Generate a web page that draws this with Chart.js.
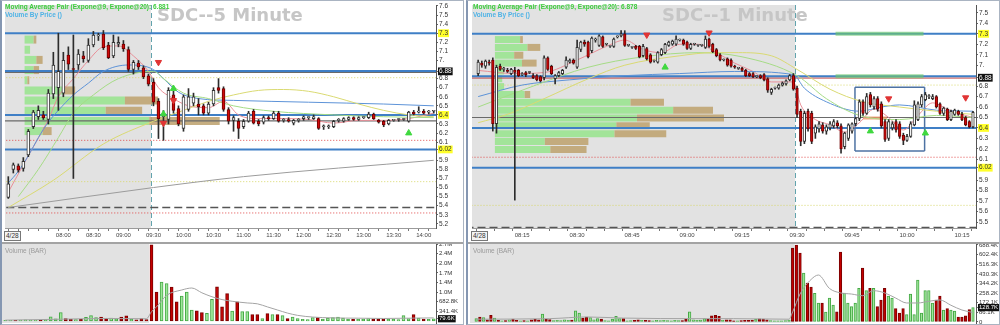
<!DOCTYPE html>
<html>
<head>
<meta charset="utf-8">
<script src="https://cdn.jsdelivr.net/npm/chart.js@4.4.1/dist/chart.umd.min.js"></script>
<style>
html,body{margin:0;padding:0;background:#fff;}
body{position:relative;width:1000px;height:325px;overflow:hidden;font-family:'Liberation Sans',Arial,sans-serif;}
canvas{position:absolute;display:block;}
.panel{position:absolute;top:0;height:325px;box-sizing:border-box;border:1px solid #aab4c2;border-left:2px solid #8597b2;background:#fff;}
.sep{position:absolute;height:2px;background:#a3a3a3;}
.wm{position:absolute;font:bold 18px 'DejaVu Sans',sans-serif;color:#c6c6c6;line-height:18px;white-space:nowrap;}
.lg{position:absolute;font:bold 6.5px 'Liberation Sans',Arial,sans-serif;line-height:8px;white-space:nowrap;}
.vt{position:absolute;font:6.5px 'Liberation Sans',Arial,sans-serif;color:#9a9a9a;white-space:nowrap;line-height:8px;}
.dt{position:absolute;font:6.5px 'Liberation Sans',Arial,sans-serif;color:#333;border:1px solid #777;padding:0 1px;line-height:8px;background:#f4f4f4;}
</style>
</head>
<body>
<div class="panel" style="left:0;width:464px"></div>
<div class="panel" style="left:466px;width:534px"></div>
<div class="sep" style="left:2px;width:461px;top:242px"></div>
<div class="sep" style="left:468px;width:531px;top:242px"></div>
<canvas id="lp" width="463" height="242" style="left:0;top:0;width:463px;height:242px"></canvas>
<canvas id="lv" width="463" height="81" style="left:0;top:244px;width:463px;height:81px"></canvas>
<canvas id="rp" width="533" height="242" style="left:467px;top:0;width:533px;height:242px"></canvas>
<canvas id="rv" width="533" height="81" style="left:467px;top:244px;width:533px;height:81px"></canvas>
<div class="wm" style="left:157px;top:6px">SDC--5 Minute</div>
<div class="wm" style="left:662px;top:6px">SDC--1 Minute</div>
<div class="lg" style="left:5px;top:3px;color:#3ccd3c">Moving Average Pair (Expone@9, Expone@20): 6.881</div>
<div class="lg" style="left:5px;top:11px;color:#4fb3e6">Volume By Price ()</div>
<div class="lg" style="left:473px;top:3px;color:#3ccd3c">Moving Average Pair (Expone@9, Expone@20): 6.878</div>
<div class="lg" style="left:473px;top:11px;color:#4fb3e6">Volume By Price ()</div>
<div class="vt" style="left:5px;top:247px">Volume (BAR)</div>
<div class="vt" style="left:473px;top:247px">Volume (BAR)</div>
<div class="dt" style="left:4px;top:231px">4/28</div>
<div class="dt" style="left:471px;top:231px">4/28</div>
<script>
// ================= LEFT: 5-minute bars (index 0 = 07:05) =================
const lStart = '07:05';
const lStepMin = 5;
const lOpenTime = '09:30';
const lOpen = [5.49,5.80,5.84,5.81,5.96,6.27,6.38,6.40,6.35,6.63, 6.70,6.64,7.06,6.91,6.95,7.05,7.00,7.17,7.27,7.29, 7.17,7.05,7.18,7.18,7.12,6.90,6.97,6.92,6.83,6.76, 6.55,6.38,6.35,6.62,6.47,6.25,6.46,6.53,6.52,6.50, 6.42,6.52,6.70,6.69,6.46,6.34,6.33,6.27,6.33,6.44, 6.33,6.32,6.37,6.36,6.42,6.34,6.35,6.31,6.34,6.36, 6.37,6.36,6.36,6.27,6.27,6.27,6.34,6.33,6.35,6.37, 6.35,6.37,6.37,6.41,6.34,6.33,6.30,6.34,6.35,6.35, 6.33,6.43,6.43,6.44,6.43,6.44];
const lHigh = [5.72,5.87,5.86,5.93,6.24,6.45,6.50,6.44,6.68,7.09, 7.30,7.09,7.15,7.28,7.12,7.10,7.24,7.32,7.30,7.33, 7.20,7.28,7.26,7.22,7.15,7.00,7.00,6.94,6.85,6.80, 6.58,6.45,6.70,6.66,6.50,6.62,6.69,6.64,6.58,6.52, 6.54,6.70,6.80,6.71,6.48,6.39,6.36,6.35,6.44,6.46, 6.35,6.39,6.39,6.44,6.44,6.36,6.37,6.35,6.36,6.39, 6.38,6.40,6.37,6.29,6.29,6.34,6.36,6.37,6.38,6.38, 6.38,6.38,6.43,6.42,6.35,6.34,6.35,6.35,6.36,6.36, 6.44,6.45,6.49,6.46,6.45,6.45];
const lLow = [5.48,5.76,5.77,5.78,5.94,6.25,6.35,6.35,6.30,6.58, 6.45,6.60,6.90,5.70,6.90,6.98,6.98,7.15,7.22,7.12, 7.02,7.03,7.15,7.10,6.88,6.85,6.90,6.80,6.72,6.50, 6.14,6.12,6.30,6.42,6.28,6.22,6.44,6.50,6.40,6.40, 6.40,6.50,6.64,6.44,6.30,6.22,6.14,6.25,6.32,6.30, 6.28,6.30,6.34,6.35,6.32,6.32,6.32,6.29,6.32,6.34, 6.35,6.35,6.24,6.24,6.25,6.26,6.32,6.32,6.34,6.34, 6.34,6.36,6.36,6.35,6.31,6.27,6.29,6.33,6.33,6.34, 6.32,6.40,6.42,6.41,6.41,6.42];
const lClose = [5.64,5.85,5.79,5.89,6.22,6.43,6.45,6.37,6.64,6.95, 6.88,7.00,6.96,6.90,7.07,7.02,7.17,7.28,7.27,7.14, 7.03,7.20,7.20,7.13,6.90,6.98,6.93,6.82,6.74,6.54, 6.36,6.40,6.67,6.45,6.30,6.60,6.60,6.60,6.49,6.42, 6.52,6.67,6.67,6.46,6.33,6.37,6.25,6.33,6.42,6.31, 6.30,6.37,6.36,6.42,6.33,6.35,6.33,6.34,6.34,6.38, 6.37,6.38,6.25,6.27,6.28,6.33,6.34,6.36,6.37,6.35, 6.37,6.37,6.41,6.36,6.32,6.29,6.34,6.34,6.35,6.35, 6.43,6.41,6.44,6.42,6.44,6.44];
// volume in thousands of shares
const lVol = [20,25,20,30,40,30,25,20,60,150, 80,300,90,60,50,60,130,190,120,140, 90,100,80,140,180,60,40,90,50,2700, 1030,1380,1330,1200,680,880,1030,390,360,300, 270,770,1210,500,970,350,680,330,330,230, 230,90,260,230,230,190,90,140,90,60, 50,120,120,70,100,120,140,100,70,60, 60,70,90,70,70,70,60,60,50,190, 90,230,100,70,60,79.6];
const lVolMa = [[0,30],[10,60],[20,90],[28,80],[29,330],[30,500],[32,910],[35,1100],[37,1170],[39,1000],[41,860],[43,760],[45,700],[48,640],[50,610],[52,500],[54,390],[56,280],[58,200],[61,140],[65,110],[70,100],[75,90],[80,100],[85,110]];
const lTimeTicks = ['08:00','08:30','09:00','09:30','10:00','10:30','11:00','11:30','12:00','12:30','13:00','13:30','14:00'];
const lPriceTicks = [7.6,7.5,7.4,7.3,7.2,7.1,7.0,6.88,6.8,6.7,6.6,6.5,6.4,6.3,6.2,6.1,6.02,5.9,5.8,5.7,5.6,5.5,5.4,5.3,5.2];
const lPriceLabels = ['7.6','7.5','7.4','7.3','7.2','7.1','7.','6.88','6.8','6.7','6.6','6.5','6.4','6.3','6.2','6.1','6.02','5.9','5.8','5.7','5.6','5.5','5.4','5.3','5.2'];
const lVolTicks = [79.6,341.4,682.8,1024.2,1365.6,1707,2048.4,2389.8,2731.2];
const lVolLabels = ['79.6K','341.4K','682.8K','1.0M','1.4M','1.7M','2.0M','2.4M','2.7M'];
// volume by price (price level, up-volume, down-volume; relative units)
const lVbpPrice = [7.23,7.118,7.006,6.894,6.782,6.67,6.558,6.446,6.334,6.222];
const lVbpUp = [23,14,30,23,7,99,256,207,318,46];
const lVbpDown = [7,0,16,14,5,30,85,93,180,23];
// horizontal levels
const lBlueLevels = [7.3,6.885,6.4,6.02];
const lDarkLevels = [6.868,6.335];
const lRedDotLevels = [6.12,5.32];
const lYellowDotLevels = [6.81,5.665];
const lDashLevels = [5.38];
// moving averages: [bar index, price]
const lEma9 = [[0,5.55],[4,5.95],[8,6.35],[10,6.6],[13,6.8],[16,7.0],[19,7.15],[22,7.16],[25,7.05],[28,6.88],[30,6.70],[33,6.58],[36,6.50],[40,6.48],[43,6.55],[46,6.40],[50,6.36],[55,6.36],[60,6.35],[65,6.31],[70,6.34],[75,6.34],[80,6.36],[85,6.42]];
const lBlueMa = [[0,5.65],[2,5.78],[4,5.95],[6,6.15],[8,6.32],[10,6.45],[13,6.62],[16,6.75],[19,6.88],[24,6.95],[29,6.90],[31,6.80],[34,6.65],[38,6.58],[45,6.56],[60,6.54],[75,6.52],[85,6.50]];
const lGreenMa = [[2,5.50],[6,5.80],[10,6.15],[13,6.42],[17,6.62],[22,6.80],[29,6.88],[31,6.80],[35,6.64],[40,6.58],[45,6.50],[53,6.44],[65,6.40],[75,6.38],[85,6.37]];
const lYellowMa = [[0,5.38],[9,5.68],[19,6.08],[29,6.33],[35,6.45],[40,6.55],[45,6.62],[50,6.67],[55,6.68],[60,6.66],[65,6.60],[70,6.52],[75,6.45],[80,6.40],[85,6.38]];
const lGrayMa = [[0,5.38],[29,5.60],[47,5.72],[85,5.90]];
const lDownArrows = [[30,6.98],[33,6.56],[31,6.31]];
const lUpArrows = [[33,6.69],[31,6.41],[80,6.20]];

// ================= RIGHT: 1-minute bars (index 0 = 08:03) =================
const rStart = '08:03';
const rStepMin = 1;
const rOpenTime = '09:30';
const rOpen = [6.92,7.02,6.99,7.03,7.05,6.44,6.99,6.96,6.95,6.92, 6.95,6.95,6.91,6.93,6.93,6.90,6.90,6.89,6.88,7.07, 6.99,6.87,6.90,6.92,6.98,7.03,7.05,6.98,7.15,7.22, 7.22,7.14,7.24,7.19,7.27,7.20,7.18,7.18,7.27,7.28, 7.30,7.19,7.17,7.18,7.18,7.09,7.16,7.10,7.04,7.03, 7.10,7.12,7.19,7.20,7.20,7.24,7.24,7.22,7.16,7.20, 7.19,7.19,7.17,7.25,7.20,7.15,7.10,7.05,7.06,7.05, 6.99,6.97,6.97,6.95,6.92,6.92,6.89,6.90,6.91,6.87, 6.74,6.78,6.78,6.81,6.82,6.86,6.90,6.78,6.56,6.27, 6.56,6.54,6.35,6.39,6.43,6.37,6.40,6.42,6.45,6.42, 6.22,6.30,6.37,6.44,6.49,6.65,6.54,6.72,6.60,6.68, 6.63,6.46,6.30,6.40,6.46,6.44,6.33,6.28,6.32,6.43, 6.48,6.62,6.67,6.70,6.68,6.70,6.63,6.54,6.58,6.48, 6.53,6.56,6.53,6.50,6.46,6.41];
const rHigh = [7.05,7.04,7.05,7.05,7.07,7.00,7.01,6.98,6.97,6.97, 6.98,6.96,6.93,6.94,6.94,6.92,6.91,6.90,7.09,7.08, 7.00,6.91,6.94,6.96,7.08,7.06,7.06,7.24,7.23,7.24, 7.23,7.27,7.26,7.29,7.28,7.21,7.19,7.26,7.28,7.33, 7.33,7.20,7.18,7.19,7.19,7.20,7.17,7.11,7.05,7.13, 7.16,7.21,7.23,7.24,7.28,7.25,7.25,7.23,7.21,7.21, 7.20,7.20,7.28,7.26,7.21,7.16,7.11,7.06,7.07,7.06, 7.00,6.98,6.98,6.96,6.93,6.93,6.90,6.91,6.92,6.88, 6.78,6.79,6.82,6.84,6.86,6.91,6.92,6.80,6.58,6.56, 6.58,6.56,6.43,6.46,6.45,6.43,6.46,6.48,6.47,6.44, 6.36,6.44,6.45,6.50,6.67,6.67,6.73,6.74,6.70,6.70, 6.65,6.48,6.48,6.46,6.48,6.46,6.35,6.34,6.46,6.66, 6.65,6.72,6.74,6.72,6.72,6.71,6.64,6.60,6.59,6.57, 6.58,6.57,6.55,6.51,6.47,6.56];
const rLow = [6.90,6.98,6.97,7.00,6.37,6.35,6.95,6.94,6.93,6.91, 5.71,6.89,6.90,6.89,6.92,6.87,6.85,6.84,6.86,6.95, 6.91,6.82,6.89,6.91,6.97,7.02,7.01,6.97,7.13,7.18, 7.07,7.12,7.22,7.18,7.17,7.19,7.17,7.17,7.26,7.27, 7.18,7.18,7.16,7.15,7.07,7.08,7.05,7.02,7.03,7.02, 7.09,7.11,7.18,7.19,7.19,7.23,7.19,7.15,7.15,7.19, 7.18,7.18,7.16,7.17,7.12,7.08,7.04,7.04,6.99,6.98, 6.97,6.96,6.94,6.89,6.89,6.88,6.88,6.87,6.85,6.74, 6.72,6.77,6.77,6.80,6.81,6.85,6.76,6.50,6.23,6.25, 6.37,6.25,6.30,6.36,6.35,6.34,6.38,6.40,6.40,6.16, 6.20,6.28,6.35,6.42,6.47,6.52,6.53,6.60,6.58,6.56, 6.40,6.27,6.28,6.38,6.36,6.30,6.24,6.27,6.31,6.42, 6.47,6.60,6.66,6.68,6.67,6.59,6.53,6.52,6.47,6.47, 6.52,6.52,6.47,6.42,6.40,6.40];
const rClose = [7.03,7.00,7.04,7.02,6.44,6.98,6.96,6.96,6.94,6.96, 6.93,6.90,6.92,6.91,6.93,6.88,6.86,6.85,7.07,6.96, 6.92,6.90,6.93,6.95,7.05,7.05,7.02,7.17,7.22,7.20, 7.08,7.26,7.25,7.28,7.18,7.20,7.18,7.25,7.27,7.30, 7.19,7.19,7.17,7.16,7.08,7.18,7.06,7.03,7.04,7.12, 7.15,7.20,7.22,7.23,7.25,7.24,7.20,7.16,7.20,7.20, 7.19,7.19,7.25,7.18,7.13,7.09,7.05,7.05,7.00,6.99, 6.98,6.97,6.95,6.90,6.90,6.89,6.89,6.88,6.86,6.76, 6.77,6.78,6.81,6.83,6.85,6.90,6.77,6.53,6.27,6.54, 6.39,6.27,6.41,6.44,6.37,6.41,6.44,6.46,6.42,6.20, 6.35,6.43,6.44,6.49,6.65,6.54,6.70,6.62,6.68,6.58, 6.42,6.29,6.46,6.44,6.38,6.32,6.28,6.32,6.44,6.62, 6.63,6.70,6.72,6.70,6.70,6.60,6.54,6.59,6.48,6.56, 6.57,6.53,6.48,6.43,6.41,6.55];
const rVol = [30,45,40,20,60,35,15,10,12,20, 25,15,10,12,10,20,25,20,70,25, 22,12,15,12,20,15,18,100,80,35, 45,40,20,30,25,12,10,25,50,30, 30,10,12,15,20,15,15,12,10,15, 12,15,12,10,15,12,12,25,90,20, 15,18,30,25,55,60,50,15,20,20, 10,10,12,15,15,18,25,28,25,20, 12,10,10,10,12,18,661,688,617,438, 349,313,256,170,170,89,214,152,90,625, 259,170,137,170,300,483,282,300,300,137, 197,300,232,214,120,80,120,66,250,66, 375,80,282,280,170,197,232,107,120,107, 98,45,45,55,110,128.7];
const rVolMa = [[0,25],[20,30],[30,45],[40,35],[60,30],[70,30],[85,25],[86,90],[88,250],[91,380],[93,420],[96,300],[99,260],[102,250],[105,235],[108,280],[111,260],[114,214],[117,170],[120,170],[123,185],[126,197],[129,150],[132,107],[135,85]];
const rTimeTicks = ['08:15','08:30','08:45','09:00','09:15','09:30','09:45','10:00','10:15'];
const rPriceTicks = [7.5,7.4,7.3,7.2,7.1,7.0,6.88,6.8,6.7,6.6,6.5,6.4,6.3,6.2,6.1,6.02,5.9,5.8,5.7,5.6,5.5];
const rPriceLabels = ['7.5','7.4','7.3','7.2','7.1','7.','6.88','6.8','6.7','6.6','6.5','6.4','6.3','6.2','6.1','6.02','5.9','5.8','5.7','5.6','5.5'];
const rVolTicks = [0,86.05,128.7,172.1,258.15,344.2,430.25,516.3,602.35,688.4];
const rVolLabels = ['0','86.1K','128.7K','172.1K','258.2K','344.2K','430.3K','516.3K','602.4K','688.4K'];
const rVbpPrice = [7.245,7.17,7.095,7.02,6.945,6.87,6.795,6.72,6.645,6.57,6.495,6.42,6.345,6.27,6.195];
const rVbpUp = [55,71,42,59,20,16,20,65,296,389,310,265,261,109,121];
const rVbpDown = [6,28,20,32,0,0,0,12,73,87,190,73,113,95,79];
const rBlueLevels = [7.3,6.895,6.4,6.02];
const rDarkLevels = [6.50];
const rRedLevels = [6.877];
const rRedDotLevels = [6.12];
const rYellowDotLevels = [6.81,5.66];
const rDashLevels = [5.45];
const rZoneLevels = [7.3,6.895];
const rZoneSpan = [97.5,121.5];
const rBox = [102.8,121.8,6.18,6.79];
const rFan = [105,111.5,6.495];
const rEma9 = [[0,6.95],[10,6.92],[18,6.93],[27,7.05],[35,7.18],[40,7.24],[45,7.15],[50,7.12],[55,7.20],[60,7.20],[65,7.12],[70,7.02],[75,6.94],[80,6.84],[86,6.84],[88,6.62],[92,6.48],[96,6.43],[100,6.36],[104,6.45],[108,6.58],[112,6.50],[116,6.38],[120,6.52],[124,6.64],[128,6.58],[132,6.53],[135,6.50]];
const rBlueMa = [[0,6.70],[12,6.81],[25,6.86],[40,6.90],[55,6.92],[70,6.94],[86,6.91],[89,6.78],[95,6.65],[104,6.56],[110,6.60],[115,6.62],[125,6.57],[135,6.56]];
const rYellowMa = [[0,6.45],[8,6.53],[18,6.68],[30,6.87],[40,7.00],[55,7.09],[64,7.12],[71,7.12],[80,7.09],[87,6.96],[96,6.77],[105,6.65],[115,6.60],[125,6.56],[135,6.53]];
const rGreenMa = [[0,6.60],[15,6.80],[30,6.98],[45,7.08],[60,7.12],[72,7.08],[87,6.90],[95,6.68],[104,6.52],[115,6.48],[125,6.52],[135,6.50]];
const rDownArrows = [[46,7.29],[63,7.31],[112,6.68],[133,6.69]];
const rUpArrows = [[51,6.98],[107,6.37],[122,6.35]];

// ================= helpers =================
Chart.defaults.font.family = "'Liberation Sans', Arial, sans-serif";
Chart.defaults.color = '#333';
const toMin = s => { const p = s.split(':').map(Number); return p[0]*60 + p[1]; };
const toIdx = (s, start, step) => (toMin(s) - toMin(start)) / step;
const pts = arr => arr.map(p => ({x:p[0], y:p[1]}));

function seg(axis, x0, x1, y0, y1, color, w, order, dash){
  return {type:'line', xAxisID:axis, yAxisID:'y', data:[{x:x0,y:y0},{x:x1,y:y1}], borderColor:color,
    borderWidth:w, borderDash:dash||[], borderCapStyle:'butt', pointRadius:0, order:order, clip:0, fill:false};
}
function maLine(arr, color, w, order){
  return {type:'line', data:pts(arr), borderColor:color, borderWidth:w, pointRadius:0,
    cubicInterpolationMode:'monotone', order:order, clip:0, fill:false};
}
function arrows(arr, color, down){
  return {type:'line', data:pts(arr), showLine:false, pointStyle:'triangle', pointRadius:3.6,
    pointRotation: down ? 180 : 0, pointBackgroundColor:color, pointBorderColor:color, order:0, clip:0};
}

const shade = {
  id:'shade',
  beforeDatasetsDraw(chart, args, o){
    const {ctx, chartArea:a, scales} = chart;
    const xb = scales.x.getPixelForValue(o.openIdx - 0.5);
    ctx.save();
    ctx.fillStyle = '#e2e2e2';
    ctx.fillRect(a.left, a.top, Math.max(0, Math.min(xb, a.right) - a.left), a.bottom - a.top);
    if (o.dash){
      ctx.strokeStyle = '#62a3ad'; ctx.lineWidth = 1; ctx.setLineDash([5,3]);
      ctx.beginPath(); ctx.moveTo(Math.round(xb)+0.5, a.top); ctx.lineTo(Math.round(xb)+0.5, a.bottom); ctx.stroke();
    }
    ctx.restore();
  }
};

function timeScale(min, max, start, step, minorMin, labels){
  const vals = [];
  for (let k = Math.ceil(min); k <= max; k++) {
    if ((toMin(start) + k*step) % minorMin === 0) vals.push(k);
  }
  const map = {};
  labels.forEach(l => { map[toIdx(l, start, step)] = l; });
  return {type:'linear', min:min, max:max, offset:false,
    afterBuildTicks: s => { s.ticks = vals.map(v => ({value:v})); },
    afterFit: s => { s.height = 14; s.paddingLeft = 0; s.paddingRight = 0; },
    grid:{drawOnChartArea:false, tickLength:3, color:'#777'},
    border:{display:true, color:'#9a9a9a'},
    ticks:{autoSkip:false, maxRotation:0, minRotation:0, padding:1, font:{size:6}, color:'#444',
      callback: v => map[v] || ''}
  };
}
function rightScale(min, max, ticks, labels, width, yellow, black, fsize){
  const lm = new Map(ticks.map((t,i) => [t, labels[i]]));
  return {type:'linear', position:'right', min:min, max:max,
    afterBuildTicks: s => { s.ticks = ticks.map(v => ({value:v})); },
    afterFit: s => { s.width = width; s.paddingTop = 0; s.paddingBottom = 0; },
    grid:{drawOnChartArea:false, tickLength:2, color:'#666'},
    border:{display:true, color:'#555'},
    ticks:{autoSkip:false, padding:1, font:{size:fsize},
      callback: v => lm.get(v),
      color: c => (c.tick && c.tick.value === black) ? '#fff' : '#333',
      showLabelBackdrop: true,
      backdropColor: c => {
        const v = c.tick && c.tick.value;
        if (v === black) return '#111';
        if (yellow.includes(v)) return '#ffff2a';
        return 'rgba(0,0,0,0)';
      },
      backdropPadding:{top:0, bottom:0, left:1, right:1}
    }
  };
}

function priceChart(id, P){
  const ds = [];
  const n = P.open.length;
  P.vbpPrice.forEach((p,k) => {
    ds.push(seg('xv', 0, P.vbpUp[k], p, p, 'rgba(150,228,140,0.85)', P.vbpH, 100));
    if (P.vbpDown[k] > 0) ds.push(seg('xv', P.vbpUp[k], P.vbpUp[k] + P.vbpDown[k], p, p, 'rgba(192,165,115,0.9)', P.vbpH, 99));
  });
  P.blue.forEach(p => ds.push(seg('x', -10, n+10, p, p, '#3f7fc6', 2, 90)));
  P.dark.forEach(p => ds.push(seg('x', -10, n+10, p, p, '#6a6a6a', 1.2, 91)));
  (P.red||[]).forEach(p => ds.push(seg('x', -10, n+10, p, p, '#c24040', 1, 91)));
  P.redDot.forEach(p => ds.push(seg('x', -10, n+10, p, p, '#e04848', 1, 92, [1,2])));
  P.yelDot.forEach(p => ds.push(seg('x', -10, n+10, p, p, '#d7d86a', 1, 92, [1,2])));
  P.dash.forEach(p => ds.push(seg('x', -10, n+10, p, p, '#555', 1.3, 92, [8,4])));
  if (P.zone) P.zone.levels.forEach(p => ds.push(seg('x', P.zone.span[0], P.zone.span[1], p, p, 'rgba(110,200,110,0.65)', 4, 89)));
  if (P.box){
    const [t0,t1,p0,p1] = P.box;
    ds.push(seg('x', t0, t1, p1, p1, '#4d72a3', 1.5, 80));
    ds.push(seg('x', t0, t1, p0, p0, '#4d72a3', 1.5, 80));
    ds.push(seg('x', t0, t0, p0, p1, '#4d72a3', 1.5, 80));
    ds.push(seg('x', t1, t1, p0, p1, '#4d72a3', 1.5, 80));
  }
  if (P.fan) ds.push(seg('x', P.fan[0], P.fan[1], P.fan[2], P.fan[2], 'rgba(240,150,100,0.8)', 3, 79));
  P.mas.forEach(m => ds.push(maLine(m[0], m[1], 1, 50)));
  ds.push({type:'bar', data:P.open.map((o,i) => ({x:i, y:[P.low[i], P.high[i]]})), backgroundColor:'#2c2c2c',
    barThickness:1, grouped:false, order:20, clip:0});
  ds.push({type:'bar', data:P.open.map((o,i) => ({x:i, y:[o, P.close[i]]})),
    backgroundColor:P.open.map((o,i) => P.close[i] < o ? '#cf0a0a' : '#ffffff'),
    borderColor:P.open.map((o,i) => P.close[i] < o ? '#6e0000' : '#333333'),
    borderWidth:1, borderSkipped:false, barThickness:P.bodyW, minBarLength:1, grouped:false, order:10, clip:0});
  ds.push(arrows(P.down, '#e03434', true));
  ds.push(arrows(P.up, '#3fd83f', false));
  return new Chart(document.getElementById(id), {
    type:'bar',
    data:{datasets:ds},
    plugins:[shade],
    options:{
      responsive:false, animation:false, devicePixelRatio:1, events:[],
      layout:{padding:{left:P.padLeft, top:2, right:0, bottom:0}},
      plugins:{legend:{display:false}, tooltip:{enabled:false}, shade:{openIdx:P.openIdx, dash:true}},
      scales:{
        x: timeScale(P.xmin, P.xmax, P.start, P.step, P.minor, P.timeTicks),
        xv:{type:'linear', display:false, min:0, max:1000},
        y: rightScale(P.ymin, P.ymax, P.yTicks, P.yLabels, P.axisW, [7.3,6.4,6.02], 6.88, 6.5)
      }
    }
  });
}

function volChart(id, V){
  return new Chart(document.getElementById(id), {
    type:'bar',
    data:{datasets:[
      {type:'bar', data:V.vol.map((v,i) => ({x:i, y:v})),
        backgroundColor:V.open.map((o,i) => V.close[i] < o ? '#c40000' : '#9fe79a'),
        borderColor:V.open.map((o,i) => V.close[i] < o ? '#7a0000' : '#45a845'),
        borderWidth:1, borderSkipped:false, barThickness:V.barW, grouped:false, order:2, clip:0},
      {type:'line', data:pts(V.ma), borderColor:'#a4a4a4', borderWidth:1, pointRadius:0,
        cubicInterpolationMode:'monotone', order:1, clip:0}
    ]},
    plugins:[shade],
    options:{
      responsive:false, animation:false, devicePixelRatio:1, events:[],
      layout:{padding:{left:V.padLeft, top:0, right:0, bottom:2}},
      plugins:{legend:{display:false}, tooltip:{enabled:false}, shade:{openIdx:V.openIdx, dash:false}},
      scales:{
        x:{type:'linear', display:false, min:V.xmin, max:V.xmax, offset:false},
        y: rightScale(V.ymin, V.ymax, V.ticks, V.labels, V.axisW, [], V.last, 6)
      }
    }
  });
}

const lOpenIdx = toIdx(lOpenTime, lStart, lStepMin);
const rOpenIdx = toIdx(rOpenTime, rStart, rStepMin);

priceChart('lp', {open:lOpen, high:lHigh, low:lLow, close:lClose, bodyW:3,
  vbpPrice:lVbpPrice, vbpUp:lVbpUp, vbpDown:lVbpDown, vbpH:8,
  blue:lBlueLevels, dark:lDarkLevels, redDot:lRedDotLevels, yelDot:lYellowDotLevels, dash:lDashLevels,
  mas:[[lGrayMa,'#9c9c9c'],[lYellowMa,'#dada72'],[lGreenMa,'#a6dc86'],[lBlueMa,'#5d93d8'],[lEma9,'#e98f98']],
  down:lDownArrows, up:lUpArrows, openIdx:lOpenIdx, padLeft:2,
  xmin:-0.66, xmax:85.45, start:lStart, step:lStepMin, minor:10, timeTicks:lTimeTicks,
  ymin:5.1543, ymax:7.6109, yTicks:lPriceTicks, yLabels:lPriceLabels, axisW:27});

volChart('lv', {vol:lVol, open:lOpen, close:lClose, ma:lVolMa, barW:3, openIdx:lOpenIdx, padLeft:2,
  xmin:-0.66, xmax:85.45, ymin:-70.9, ymax:2731.2, ticks:lVolTicks, labels:lVolLabels, axisW:27, last:79.6});

priceChart('rp', {open:rOpen, high:rHigh, low:rLow, close:rClose, bodyW:2.6,
  vbpPrice:rVbpPrice, vbpUp:rVbpUp, vbpDown:rVbpDown, vbpH:7,
  blue:rBlueLevels, dark:rDarkLevels, red:rRedLevels, redDot:rRedDotLevels, yelDot:rYellowDotLevels, dash:rDashLevels,
  zone:{levels:rZoneLevels, span:rZoneSpan}, box:rBox, fan:rFan,
  mas:[[rYellowMa,'#dada72'],[rGreenMa,'#a6dc86'],[rBlueMa,'#5d93d8'],[rEma9,'#e98f98']],
  down:rDownArrows, up:rUpArrows, openIdx:rOpenIdx, padLeft:3,
  xmin:-1.68, xmax:135.82, start:rStart, step:rStepMin, minor:5, timeTicks:rTimeTicks,
  ymin:5.4434, ymax:7.5755, yTicks:rPriceTicks, yLabels:rPriceLabels, axisW:24});

volChart('rv', {vol:rVol, open:rOpen, close:rClose, ma:rVolMa, barW:2.6, openIdx:rOpenIdx, padLeft:3,
  xmin:-1.68, xmax:135.82, ymin:-8.94, ymax:697.3, ticks:rVolTicks, labels:rVolLabels, axisW:24, last:128.7});
</script>
</body>
</html>
